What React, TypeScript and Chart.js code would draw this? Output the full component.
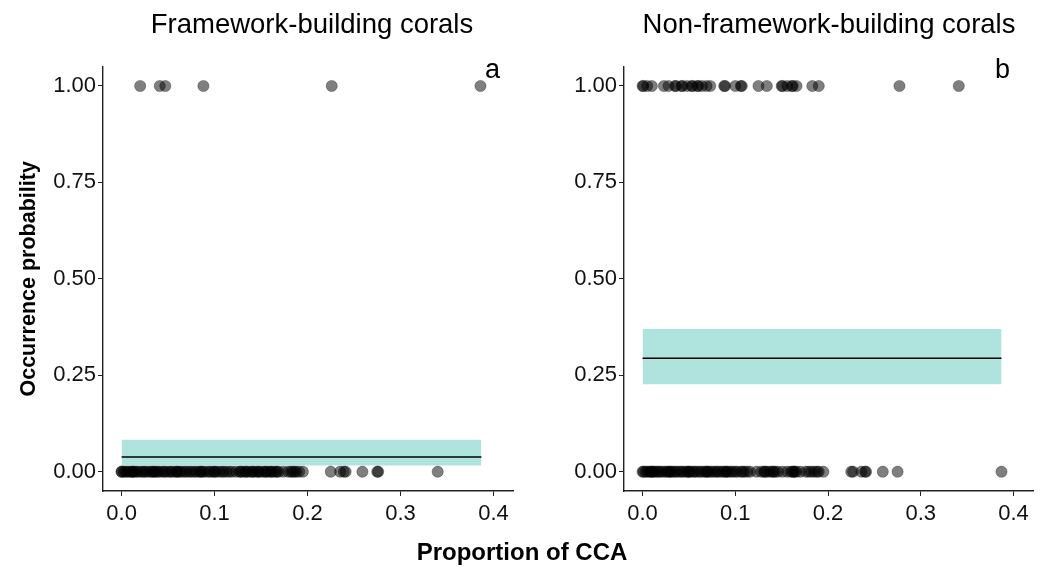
import { useEffect, useRef } from "react";
import { Chart, registerables } from "chart.js";

Chart.register(...registerables);

// ---- data -------------------------------------------------------------
const X_TICKS = [0, 0.1, 0.2, 0.3, 0.4];
const Y_TICKS = [0, 0.25, 0.5, 0.75, 1];

// x extent of the fitted line / confidence band (range of CCA cover)
const FIT_X = [0, 0.387];

// Framework-building corals: CCA proportion at sites where present (1) / absent (0)
const FW_PRESENT = [0.02, 0.041, 0.047, 0.088, 0.226, 0.386];
const FW_ABSENT = [
  0.0, 0.0, 0.002, 0.004, 0.006, 0.008, 0.01, 0.012, 0.012, 0.014, 0.016, 0.018,
  0.021, 0.023, 0.025, 0.027, 0.03, 0.032, 0.034, 0.035, 0.037, 0.039, 0.041,
  0.044, 0.046, 0.048, 0.051, 0.053, 0.055, 0.058, 0.06, 0.06, 0.063, 0.065,
  0.068, 0.07, 0.073, 0.075, 0.078, 0.08, 0.083, 0.085, 0.086, 0.088, 0.091,
  0.094, 0.096, 0.099, 0.1, 0.102, 0.105, 0.108, 0.11, 0.113, 0.116, 0.119,
  0.123, 0.127, 0.128, 0.13, 0.133, 0.134, 0.136, 0.139, 0.141, 0.142, 0.145,
  0.147, 0.148, 0.151, 0.154, 0.155, 0.157, 0.16, 0.161, 0.163, 0.166, 0.167,
  0.169, 0.174, 0.179, 0.182, 0.184, 0.186, 0.188, 0.191, 0.195, 0.225, 0.235,
  0.239, 0.241, 0.259, 0.275, 0.276, 0.34,
];
const FW_FIT = 0.038;
const FW_LOWER = 0.016;
const FW_UPPER = 0.083;

// Non-framework-building corals
const NFW_PRESENT = [
  0.0, 0.001, 0.005, 0.01, 0.023, 0.028, 0.035, 0.036, 0.042, 0.043, 0.048,
  0.053, 0.054, 0.059, 0.06, 0.064, 0.069, 0.073, 0.088, 0.089, 0.1, 0.106,
  0.107, 0.125, 0.134, 0.15, 0.151, 0.156, 0.161, 0.162, 0.166, 0.183, 0.19,
  0.277, 0.341,
];
const NFW_ABSENT = [
  0.0, 0.001, 0.003, 0.005, 0.007, 0.009, 0.01, 0.011, 0.013, 0.015, 0.017,
  0.019, 0.021, 0.024, 0.026, 0.028, 0.03, 0.03, 0.033, 0.035, 0.037, 0.04,
  0.042, 0.044, 0.047, 0.049, 0.05, 0.051, 0.054, 0.056, 0.058, 0.061, 0.063,
  0.066, 0.068, 0.07, 0.07, 0.073, 0.075, 0.078, 0.08, 0.082, 0.085, 0.087,
  0.09, 0.09, 0.092, 0.095, 0.097, 0.1, 0.102, 0.106, 0.108, 0.11, 0.113,
  0.116, 0.123, 0.128, 0.131, 0.132, 0.134, 0.137, 0.14, 0.141, 0.143, 0.146,
  0.151, 0.156, 0.16, 0.162, 0.163, 0.164, 0.166, 0.17, 0.176, 0.179, 0.182,
  0.185, 0.188, 0.19, 0.195, 0.225, 0.227, 0.236, 0.24, 0.241, 0.259, 0.275,
  0.387,
];
const NFW_FIT = 0.294;
const NFW_LOWER = 0.227;
const NFW_UPPER = 0.37;

// ---- styling ----------------------------------------------------------
const W = 1049;
const H = 567;
const FONT = "'Liberation Sans', Arial, Helvetica, sans-serif";
const RIBBON = "#AFE3DE";
const POINT_FILL = "rgba(0,0,0,0.5)";
const AXIS = "#222";

type Panel = {
  title: string;
  titleX: number;
  tag: string;
  tagX: number;
  present: number[];
  absent: number[];
  fit: number;
  lower: number;
  upper: number;
  axisLeft: number; // pixel position of the y axis line
  axisRight: number; // pixel position of the right end of the x axis
  yTitle?: string;
  xTitle?: string;
};

const PANELS: Panel[] = [
  {
    title: "Framework-building corals",
    titleX: 312,
    tag: "a",
    tagX: 0.399,
    present: FW_PRESENT,
    absent: FW_ABSENT,
    fit: FW_FIT,
    lower: FW_LOWER,
    upper: FW_UPPER,
    axisLeft: 103,
    axisRight: 513,
    yTitle: "Occurrence probability",
    xTitle: "Proportion of CCA",
  },
  {
    title: "Non-framework-building corals",
    titleX: 829,
    tag: "b",
    tagX: 0.388,
    present: NFW_PRESENT,
    absent: NFW_ABSENT,
    fit: NFW_FIT,
    lower: NFW_LOWER,
    upper: NFW_UPPER,
    axisLeft: 624,
    axisRight: 1033,
  },
];

// Panel title, corner tag and the shared axis titles
const panelText = {
  id: "panelText",
  afterDraw(chart: any, _args: any, opts: any) {
    const { ctx } = chart;
    const x = chart.scales.x;
    const y = chart.scales.y;
    ctx.save();
    ctx.fillStyle = "#000";
    ctx.textAlign = "center";
    ctx.textBaseline = "alphabetic";
    ctx.font = `27.5px ${FONT}`;
    ctx.fillText(opts.title, opts.titleX, 33);
    ctx.font = `27px ${FONT}`;
    ctx.fillText(opts.tag, x.getPixelForValue(opts.tagX), y.getPixelForValue(1.021));
    if (opts.yTitle) {
      ctx.font = `bold 21.5px ${FONT}`;
      ctx.translate(35, (chart.chartArea.top + chart.chartArea.bottom) / 2);
      ctx.rotate(-Math.PI / 2);
      ctx.fillText(opts.yTitle, 0, 0);
      ctx.setTransform(1, 0, 0, 1, 0, 0);
    }
    if (opts.xTitle) {
      ctx.font = `bold 24px ${FONT}`;
      ctx.fillText(opts.xTitle, 522, 560);
    }
    ctx.restore();
  },
};

function makeConfig(p: Panel): any {
  const points = [
    ...p.present.map((v) => ({ x: v, y: 1 })),
    ...p.absent.map((v) => ({ x: v, y: 0 })),
  ];
  const flat = (v: number) => FIT_X.map((x) => ({ x, y: v }));
  return {
    type: "scatter",
    data: {
      datasets: [
        {
          type: "scatter",
          data: points,
          pointRadius: 5.6,
          pointBackgroundColor: POINT_FILL,
          pointBorderColor: "rgba(0,0,0,0.5)",
          pointBorderWidth: 0.6,
        },
        {
          type: "line",
          data: flat(p.fit),
          borderColor: "#000",
          borderWidth: 1.6,
          pointRadius: 0,
          fill: false,
        },
        {
          type: "line",
          data: flat(p.upper),
          borderColor: "transparent",
          borderWidth: 0,
          pointRadius: 0,
          fill: false,
        },
        {
          type: "line",
          data: flat(p.lower),
          borderColor: "transparent",
          borderWidth: 0,
          pointRadius: 0,
          backgroundColor: RIBBON,
          fill: 2,
        },
      ],
    },
    options: {
      animation: false,
      responsive: false,
      events: [],
      layout: {
        padding: { left: 0, right: W - p.axisRight, top: 66.7, bottom: 0 },
      },
      plugins: {
        legend: { display: false },
        tooltip: { enabled: false },
        title: { display: false },
        panelText: {
          title: p.title,
          titleX: p.titleX,
          tag: p.tag,
          tagX: p.tagX,
          yTitle: p.yTitle,
          xTitle: p.xTitle,
        },
      },
      scales: {
        x: {
          type: "linear",
          min: -0.02,
          max: 0.421,
          afterFit: (s: any) => {
            s.height = H - 491;
          },
          afterBuildTicks: (s: any) => {
            s.ticks = X_TICKS.map((value) => ({ value }));
          },
          ticks: {
            callback: (v: number) => v.toFixed(1),
            font: { family: FONT, size: 22 },
            color: "#111",
            padding: 5,
            maxRotation: 0,
          },
          grid: {
            display: true,
            drawOnChartArea: false,
            drawTicks: true,
            tickLength: 5,
            color: AXIS,
            lineWidth: 1,
          },
          border: { display: true, color: AXIS, width: 1.4 },
        },
        y: {
          type: "linear",
          min: -0.05,
          max: 1.05,
          afterFit: (s: any) => {
            s.width = p.axisLeft;
          },
          afterBuildTicks: (s: any) => {
            s.ticks = Y_TICKS.map((value) => ({ value }));
          },
          ticks: {
            callback: (v: number) => v.toFixed(2),
            font: { family: FONT, size: 22 },
            color: "#111",
            padding: 2,
          },
          grid: {
            display: true,
            drawOnChartArea: false,
            drawTicks: true,
            tickLength: 5,
            color: AXIS,
            lineWidth: 1,
          },
          border: { display: true, color: AXIS, width: 1.4 },
        },
      },
    },
    plugins: [panelText],
  };
}

function PanelCanvas({ panel }: { panel: Panel }) {
  const ref = useRef<HTMLCanvasElement | null>(null);
  useEffect(() => {
    if (!ref.current) return;
    const chart = new Chart(ref.current, makeConfig(panel));
    return () => chart.destroy();
  }, [panel]);
  return (
    <canvas
      ref={ref}
      width={W}
      height={H}
      style={{ position: "absolute", left: 0, top: 0, width: W, height: H }}
    />
  );
}

export default function App() {
  return (
    <div
      style={{
        position: "absolute",
        left: 0,
        top: 0,
        width: W,
        height: H,
        background: "#fff",
      }}
    >
      {PANELS.map((p) => (
        <PanelCanvas key={p.tag} panel={p} />
      ))}
    </div>
  );
}
